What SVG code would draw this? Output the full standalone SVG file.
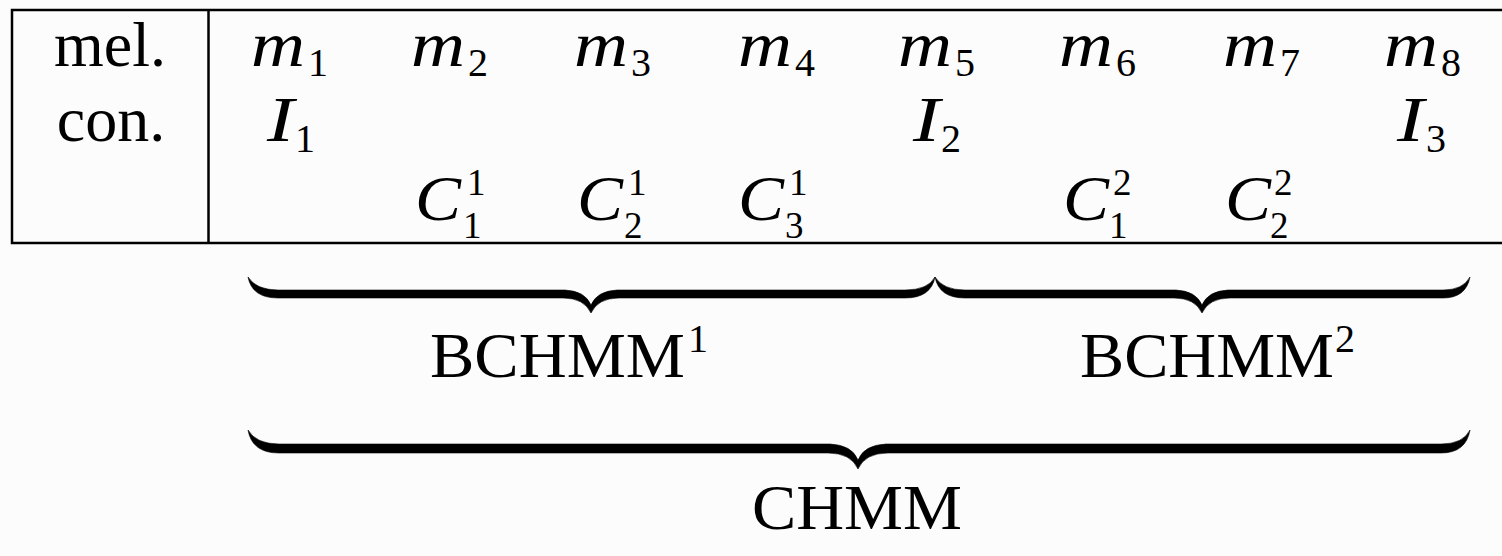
<svg xmlns="http://www.w3.org/2000/svg" width="1502" height="556" viewBox="0 0 1502 556">
<style>
.rm{font-family:"Liberation Serif","Times New Roman",serif;font-size:64px;fill:#000}
.it{font-family:"Liberation Serif","Times New Roman",serif;font-style:italic;font-size:64px;fill:#000}
.sm{font-family:"Liberation Serif","Times New Roman",serif;font-size:40px;fill:#000}
.ss{font-family:"Liberation Serif","Times New Roman",serif;font-size:37px;fill:#000}
.rule{fill:none;stroke:#000;stroke-width:2.5}
.brace{fill:#000;stroke:#000;stroke-width:0.6;stroke-linejoin:round}
</style>
<rect x="0" y="0" width="1502" height="556" fill="#fcfcfc"/>
<g id="table">
<rect class="rule" x="12" y="10" width="1500" height="233"/>
<line class="rule" x1="208.5" y1="10" x2="208.5" y2="243"/>
</g>
<g id="row-labels">
<text class="rm" x="110" y="66" text-anchor="middle">mel.</text>
<text class="rm" x="111" y="141" text-anchor="middle">con.</text>
</g>
<g id="melody">
<text class="it" x="251" y="66" textLength="54" lengthAdjust="spacingAndGlyphs">m</text><text class="sm" x="308" y="76">1</text>
<text class="it" x="411" y="66" textLength="54" lengthAdjust="spacingAndGlyphs">m</text><text class="sm" x="468" y="76">2</text>
<text class="it" x="574" y="66" textLength="54" lengthAdjust="spacingAndGlyphs">m</text><text class="sm" x="631" y="76">3</text>
<text class="it" x="738" y="66" textLength="54" lengthAdjust="spacingAndGlyphs">m</text><text class="sm" x="795" y="76">4</text>
<text class="it" x="898" y="66" textLength="54" lengthAdjust="spacingAndGlyphs">m</text><text class="sm" x="955" y="76">5</text>
<text class="it" x="1059" y="66" textLength="54" lengthAdjust="spacingAndGlyphs">m</text><text class="sm" x="1116" y="76">6</text>
<text class="it" x="1223" y="66" textLength="54" lengthAdjust="spacingAndGlyphs">m</text><text class="sm" x="1280" y="76">7</text>
<text class="it" x="1384" y="66" textLength="54" lengthAdjust="spacingAndGlyphs">m</text><text class="sm" x="1441" y="76">8</text>
</g>
<g id="intervals">
<text class="it" x="267" y="141" textLength="27" lengthAdjust="spacingAndGlyphs">I</text><text class="sm" x="295" y="152">1</text>
<text class="it" x="913" y="141" textLength="27" lengthAdjust="spacingAndGlyphs">I</text><text class="sm" x="941" y="152">2</text>
<text class="it" x="1397" y="141" textLength="27" lengthAdjust="spacingAndGlyphs">I</text><text class="sm" x="1426" y="152">3</text>
</g>
<g id="chords">
<text class="it" x="415" y="220" textLength="46" lengthAdjust="spacingAndGlyphs">C</text><text class="ss" x="467" y="195">1</text><text class="ss" x="463" y="238">1</text>
<text class="it" x="577" y="220" textLength="46" lengthAdjust="spacingAndGlyphs">C</text><text class="ss" x="628" y="195">1</text><text class="ss" x="624" y="238">2</text>
<text class="it" x="738" y="220" textLength="46" lengthAdjust="spacingAndGlyphs">C</text><text class="ss" x="789" y="195">1</text><text class="ss" x="785" y="238">3</text>
<text class="it" x="1063" y="220" textLength="46" lengthAdjust="spacingAndGlyphs">C</text><text class="ss" x="1113" y="195">2</text><text class="ss" x="1109" y="238">1</text>
<text class="it" x="1225" y="220" textLength="46" lengthAdjust="spacingAndGlyphs">C</text><text class="ss" x="1274" y="195">2</text><text class="ss" x="1270" y="238">2</text>
</g>
<g id="braces">
<path class="brace" d="M248,277 Q252,298 278,298 L563,298 Q584,298 591,313 Q598,298 619,298 L905,298 Q931,298 935,277 Q928,290 905,290 L617,290 Q597,291 591,305 Q585,291 565,290 L278,290 Q256,290 248,277 Z"/>
<path class="brace" d="M935,277 Q939,298 965,298 L1174,298 Q1195,298 1202,313 Q1209,298 1230,298 L1443,298 Q1466,298 1470,277 Q1463,290 1443,290 L1228,290 Q1208,291 1202,305 Q1196,291 1176,290 L965,290 Q943,290 935,277 Z"/>
<path class="brace" d="M248,430 Q252,453 279,453 L828,453 Q851,453 858,469 Q865,453 888,453 L1441,453 Q1466,453 1470,430 Q1463,444 1441,444 L886,444 Q864,445 858,460 Q852,445 830,444 L279,444 Q256,444 248,430 Z"/>
</g>
<g id="brace-labels">
<text class="rm" x="430" y="377" textLength="255" lengthAdjust="spacingAndGlyphs">BCHMM</text><text class="sm" x="688" y="352">1</text>
<text class="rm" x="1080" y="377" textLength="254" lengthAdjust="spacingAndGlyphs">BCHMM</text><text class="sm" x="1335" y="352">2</text>
<text class="rm" x="752" y="529" textLength="210" lengthAdjust="spacingAndGlyphs">CHMM</text>
</g>
</svg>
